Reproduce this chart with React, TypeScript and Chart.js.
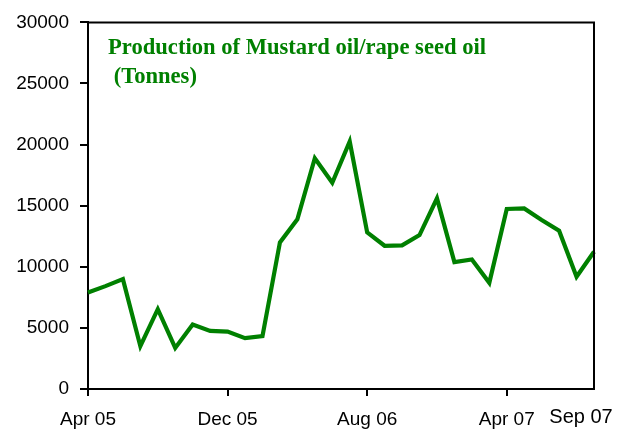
import React, { useEffect, useRef } from "react";
import { Chart, registerables } from "chart.js";

Chart.register(...registerables);

const months = [
  "Apr 05", "May 05", "Jun 05", "Jul 05", "Aug 05", "Sep 05", "Oct 05", "Nov 05",
  "Dec 05", "Jan 06", "Feb 06", "Mar 06", "Apr 06", "May 06", "Jun 06", "Jul 06",
  "Aug 06", "Sep 06", "Oct 06", "Nov 06", "Dec 06", "Jan 07", "Feb 07", "Mar 07",
  "Apr 07", "May 07", "Jun 07", "Jul 07", "Aug 07", "Sep 07",
];

const production = [
  7900, 8420, 8990, 3500, 6530, 3360, 5280, 4750, 4700, 4160, 4320, 12000, 13880,
  18880, 16880, 20250, 12820, 11720, 11750, 12600, 15600, 10390, 10600, 8690,
  14730, 14780, 13830, 12950, 9180, 11230,
];

const shownTicks = ["Apr 05", "Dec 05", "Aug 06", "Apr 07"];
const lastTick = "Sep 07";
const titleLines = ["Production of Mustard oil/rape seed oil", " (Tonnes)"];
const yMin = 0;
const yMax = 30000;
const yStep = 5000;

const GREEN = "#008000";

export default function App() {
  const ref = useRef<HTMLCanvasElement | null>(null);

  useEffect(() => {
    const canvas = ref.current;
    if (!canvas) return;

    const decor = {
      id: "decor",
      afterDraw(chart: any) {
        const { ctx, chartArea } = chart;
        ctx.save();
        ctx.strokeStyle = "#000";
        ctx.lineWidth = 2;
        ctx.beginPath();
        ctx.moveTo(chartArea.left, chartArea.top);
        ctx.lineTo(chartArea.right, chartArea.top);
        ctx.lineTo(chartArea.right, chartArea.bottom);
        ctx.stroke();

        ctx.fillStyle = GREEN;
        ctx.font = "bold 22.6px 'Liberation Serif', 'Times New Roman', serif";
        ctx.textBaseline = "alphabetic";
        ctx.textAlign = "left";
        ctx.fillText(titleLines[0], 108, 54);
        ctx.fillText(titleLines[1], 108, 83);

        const xs = chart.scales.x;
        ctx.fillStyle = "#000";
        ctx.font = "20px 'Liberation Sans', Arial, sans-serif";
        ctx.textAlign = "center";
        ctx.fillText(lastTick, xs.getPixelForValue(months.length - 1) - 13, 423);
        ctx.restore();
      },
    };

    const chart = new Chart(canvas, {
      type: "line",
      data: {
        labels: months,
        datasets: [
          {
            data: production,
            borderColor: GREEN,
            backgroundColor: GREEN,
            borderWidth: 4.2,
            pointRadius: 0,
            tension: 0,
            fill: false,
          },
        ],
      },
      options: {
        animation: false,
        responsive: false,
        maintainAspectRatio: false,
        layout: { padding: { left: 0, right: 34, top: 22, bottom: 0 } },
        plugins: {
          legend: { display: false },
          title: { display: false },
          tooltip: { enabled: false },
        },
        scales: {
          x: {
            type: "category",
            offset: false,
            afterFit: (s: any) => {
              s.height = 40;
            },
            border: { display: true, color: "#000", width: 2 },
            grid: {
              drawOnChartArea: false,
              drawTicks: true,
              tickLength: 7,
              color: "#000",
              lineWidth: 2,
            },
            ticks: {
              autoSkip: false,
              maxRotation: 0,
              minRotation: 0,
              padding: 12,
              color: "#000",
              font: { family: "'Liberation Sans', Arial, sans-serif", size: 19 },
              callback: (_v: any, i: number) =>
                shownTicks.includes(months[i]) ? months[i] : null,
            },
          },
          y: {
            min: yMin,
            max: yMax,
            afterFit: (s: any) => {
              s.width = 88;
            },
            border: { display: true, color: "#000", width: 2 },
            grid: {
              drawOnChartArea: false,
              drawTicks: true,
              tickLength: 8,
              color: "#000",
              lineWidth: 2,
            },
            ticks: {
              stepSize: yStep,
              padding: 11,
              color: "#000",
              font: { family: "'Liberation Sans', Arial, sans-serif", size: 19 },
              callback: (v: any) => String(v),
            },
          },
        },
      },
      plugins: [decor],
    });

    return () => chart.destroy();
  }, []);

  return (
    <div style={{ position: "fixed", left: 0, top: 0, width: 628, height: 429, background: "#fff" }}>
      <canvas ref={ref} width={628} height={429} style={{ width: 628, height: 429, display: "block" }} />
    </div>
  );
}
